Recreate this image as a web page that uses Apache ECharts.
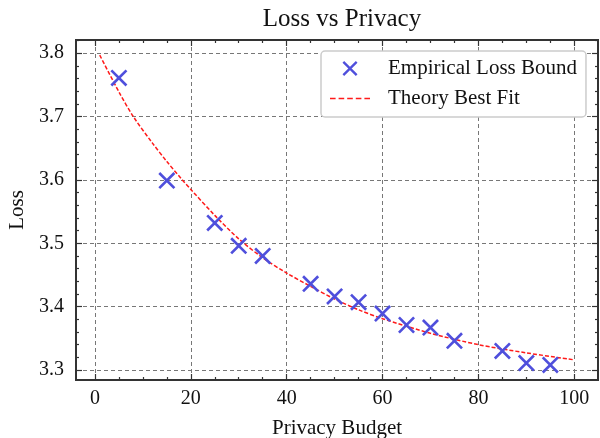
<!DOCTYPE html>
<html>
<head>
<meta charset="utf-8">
<script src="https://cdn.jsdelivr.net/npm/echarts@6/dist/echarts.min.js"></script>
<style>
  html, body { margin: 0; padding: 0; background: #fff; }
  #chart { width: 600px; height: 438px; }
</style>
</head>
<body>
<div id="chart"></div>
<script>
// empirical points
const budget = [5, 15, 25, 30, 35, 45, 50, 55, 60, 65, 70, 75, 85, 90, 95]
const loss = [3.761, 3.599, 3.532, 3.496, 3.480, 3.436, 3.416, 3.407, 3.389, 3.371, 3.367, 3.346, 3.330, 3.311, 3.308]

// theory curve
const fitX = [1, 5, 8, 12, 15, 18, 20, 25, 30, 35, 40, 45, 50, 55, 60, 70, 80, 90, 100]
const fitY = [3.797, 3.739, 3.700, 3.658, 3.629, 3.602, 3.585, 3.544, 3.507, 3.477, 3.453, 3.432, 3.412, 3.395, 3.381, 3.358, 3.340, 3.327, 3.316]

// ticks
const xMajor = [0, 20, 40, 60, 80, 100]
const xMinor = [-5, 5, 10, 15, 25, 30, 35, 45, 50, 55, 65, 70, 75, 85, 90, 95, 105]
const yMajor = [3.3, 3.4, 3.5, 3.6, 3.7, 3.8]
const yMinor = [3.28, 3.32, 3.34, 3.36, 3.38, 3.42, 3.44, 3.46, 3.48, 3.52, 3.54, 3.56, 3.58, 3.62, 3.64, 3.66, 3.68, 3.72, 3.74, 3.76, 3.78, 3.82]

const X_MIN = -3.95, X_MAX = 104.95
const Y_MIN = 3.2842, Y_MAX = 3.8208

const font = 'Liberation Serif'
const xMark = 'path://M0,1.1L1.1,0L10,8.9L8.9,10Z M8.9,0L10,1.1L1.1,10L0,8.9Z'
const dashIcon = 'path://M0,0H5.6V1.5H0Z M8.6,0H14.2V1.5H8.6Z M17.2,0H22.8V1.5H17.2Z M25.8,0H31.4V1.5H25.8Z M34.4,0H40V1.5H34.4Z'

let chart = echarts.init(document.getElementById('chart'))

//坐标轴工厂
let makeAxis = (min, max, position, values, len, showLabel, split) => ({
    type: 'value',
    min: min,
    max: max,
    position: position,
    axisLine: { show: true, onZero: false, lineStyle: { color: '#333', width: 2 } },
    axisTick: { show: true, inside: true, length: len, customValues: values, lineStyle: { color: '#333', width: 1.2 } },
    axisLabel: {
        show: showLabel,
        customValues: values,
        color: '#111',
        fontFamily: font,
        fontSize: 20,
        margin: 9
    },
    splitLine: {
        show: split,
        lineStyle: { color: '#777', type: [4, 3], width: 1 }
    }
})

let xAxes = [
    makeAxis(X_MIN, X_MAX, 'bottom', xMajor, 6, true, true),
    makeAxis(X_MIN, X_MAX, 'bottom', xMinor, 3, false, false),
    makeAxis(X_MIN, X_MAX, 'top', xMajor, 6, false, false),
    makeAxis(X_MIN, X_MAX, 'top', xMinor, 3, false, false)
]
xAxes[0].name = 'Privacy Budget'
xAxes[0].nameLocation = 'middle'
xAxes[0].nameGap = 38
xAxes[0].nameTextStyle = { fontFamily: font, fontSize: 21, color: '#111' }

let yAxes = [
    makeAxis(Y_MIN, Y_MAX, 'left', yMajor, 6, true, true),
    makeAxis(Y_MIN, Y_MAX, 'left', yMinor, 3, false, false),
    makeAxis(Y_MIN, Y_MAX, 'right', yMajor, 6, false, false),
    makeAxis(Y_MIN, Y_MAX, 'right', yMinor, 3, false, false)
]
yAxes[0].name = 'Loss'
yAxes[0].nameLocation = 'middle'
yAxes[0].nameGap = 47
yAxes[0].nameTextStyle = { fontFamily: font, fontSize: 21, color: '#111' }
yAxes[0].axisLabel.formatter = (v) => v.toFixed(1)
yAxes[0].axisLabel.margin = 12

let option = {
    animation: false,
    backgroundColor: '#fff',
    title: {
        text: 'Loss vs Privacy',
        left: 337,
        textAlign: 'center',
        top: 2,
        textStyle: { fontFamily: font, fontSize: 25, fontWeight: 'normal', color: '#111' }
    },
    grid: { left: 76, top: 40, width: 522, height: 340, containLabel: false, outerBoundsMode: 'none' },
    legend: {
        orient: 'vertical',
        left: 321,
        top: 51,
        padding: [7, 9, 8, 9],
        itemWidth: 40,
        itemHeight: 15,
        itemGap: 9,
        backgroundColor: '#fff',
        borderColor: '#ccc',
        borderWidth: 1.5,
        borderRadius: 4,
        textStyle: { fontFamily: font, fontSize: 21, color: '#111', padding: [0, 0, 0, 13] },
        data: [
            { name: 'Empirical Loss Bound' },
            { name: 'Theory Best Fit', icon: dashIcon, itemStyle: { color: '#ff1a1a' } }
        ]
    },
    xAxis: xAxes,
    yAxis: yAxes,
    series: [
        {
            name: 'Theory Best Fit',
            type: 'line',
            smooth: 0.3,
            showSymbol: false,
            symbol: 'none',
            lineStyle: { color: '#ff1a1a', width: 1.5, type: [4, 2] },
            itemStyle: { color: '#ff1a1a' },
            data: fitX.map((x, i) => [x, fitY[i]]),
            z: 3
        },
        {
            name: 'Empirical Loss Bound',
            type: 'scatter',
            symbol: xMark,
            symbolSize: 17,
            itemStyle: { color: '#4f4fdc', opacity: 1 },
            data: budget.map((x, i) => [x, loss[i]]),
            z: 4
        }
    ]
}

chart.setOption(option)
</script>
</body>
</html>
